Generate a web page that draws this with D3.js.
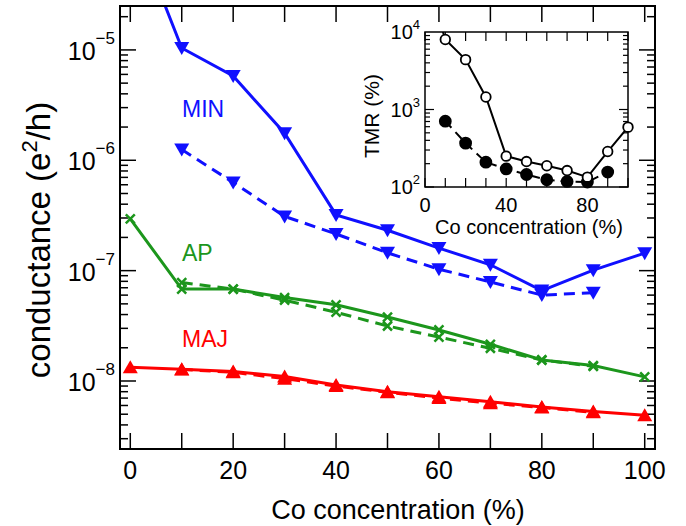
<!DOCTYPE html>
<html>
<head>
<meta charset="utf-8">
<script src="https://cdn.jsdelivr.net/npm/d3@7"></script>
<style>
  body { margin: 0; background: #fff; }
  svg { display: block; font-family: "Liberation Sans", Arial, Helvetica, sans-serif; }
</style>
</head>
<body>
<div id="chart"></div>
<script>
// Données
const conc = [0, 10, 20, 30, 40, 50, 60, 70, 80, 90, 100];
const minSolid = [1.6e-4, 1.04e-5, 5.8e-6, 1.76e-6, 3.2e-7, 2.32e-7, 1.6e-7, 1.13e-7, 6.6e-8, 1.01e-7, 1.44e-7];
const minDashed = [null, 1.25e-6, 6.3e-7, 3.1e-7, 2.15e-7, 1.45e-7, 1.03e-7, 7.9e-8, 6.0e-8, 6.3e-8, null];
const apSolid = [2.95e-7, 6.8e-8, 6.8e-8, 5.7e-8, 4.9e-8, 3.8e-8, 2.9e-8, 2.15e-8, 1.55e-8, 1.38e-8, 1.09e-8];
const apDashed = [null, 7.8e-8, 6.8e-8, 5.4e-8, 4.2e-8, 3.15e-8, 2.5e-8, 1.98e-8, 1.55e-8, 1.36e-8, null];
const majSolid = [1.33e-8, 1.28e-8, 1.22e-8, 1.1e-8, 9.2e-9, 8.0e-9, 7.2e-9, 6.5e-9, 5.8e-9, 5.3e-9, 4.9e-9];
const majDashed = [null, 1.27e-8, 1.2e-8, 1.05e-8, 9.0e-9, 7.9e-9, 7.0e-9, 6.3e-9, 5.75e-9, 5.2e-9, null];
const tmrOpen = [5.7e4, 8000, 4400, 1450, 250, 213, 188, 163, 134, 287, 592];
const tmrFilled = [null, 707, 368, 209, 171, 145, 124, 118, 116, 156, null];

const xTicks = [0, 10, 20, 30, 40, 50, 60, 70, 80, 90, 100];
const xLabels = [0, 20, 40, 60, 80, 100];
const yDecades = [-8, -7, -6, -5];
const insetXLabels = [0, 40, 80];
const insetDecades = [2, 3, 4];

const BLUE = "#1010ff";
const GREEN = "#1c961c";
const RED = "#ff0000";

// Dimensions
const width = 686;
const height = 526;
const m = { left: 120, right: 655, top: 6, bottom: 449 };
const ins = { left: 425, right: 628, top: 32, bottom: 187 };

const svg = d3
  .select("#chart")
  .append("svg")
  .attr("width", width)
  .attr("height", height);

const x = d3.scaleLinear().domain([-2, 102]).range([m.left, m.right]);
const y = d3.scaleLog().domain([2.42e-9, 2.5e-5]).range([m.bottom, m.top]);

const ix = d3.scaleLinear().domain([0, 100]).range([ins.left, ins.right]);
const iy = d3.scaleLog().domain([100, 10000]).range([ins.bottom, ins.top]);

const defs = svg.append("defs");
defs.append("clipPath").attr("id", "clip-main")
  .append("rect")
  .attr("x", m.left).attr("y", m.top)
  .attr("width", m.right - m.left).attr("height", m.bottom - m.top);
defs.append("clipPath").attr("id", "clip-inset")
  .append("rect")
  .attr("x", ins.left).attr("y", ins.top)
  .attr("width", ins.right - ins.left).attr("height", ins.bottom - ins.top);

// Graduations (vers l'intérieur, sur les quatre côtés)
const drawTicks = (g, box, xs, ticks, ys, xLen, yMajor, yMinor, decades) => {
  ticks.forEach((t) => {
    const px = xs(t);
    g.append("line").attr("x1", px).attr("x2", px).attr("y1", box.bottom).attr("y2", box.bottom - xLen);
    g.append("line").attr("x1", px).attr("x2", px).attr("y1", box.top).attr("y2", box.top + xLen);
  });
  const [lo, hi] = ys.domain();
  decades.forEach((d) => {
    for (let k = 1; k <= 9; k++) {
      const v = k * Math.pow(10, d);
      if (v < lo * 0.999 || v > hi * 1.001) continue;
      const py = ys(v);
      const len = k === 1 ? yMajor : yMinor;
      g.append("line").attr("x1", box.left).attr("x2", box.left + len).attr("y1", py).attr("y2", py);
      g.append("line").attr("x1", box.right).attr("x2", box.right - len).attr("y1", py).attr("y2", py);
    }
  });
};

const line = (xs, ys) =>
  d3.line()
    .defined((d) => d.v != null)
    .x((d) => xs(d.c))
    .y((d) => ys(d.v));

const toPts = (arr) => conc.map((c, i) => ({ c: c, v: arr[i] }));
const inDomain = (ys) => (d) => d.v != null && d.v <= ys.domain()[1];

// ---------- Graphique principal ----------
const mainTicks = svg.append("g").attr("stroke", "#000").attr("stroke-width", 1.5);
drawTicks(mainTicks, m, x, xTicks, y, 16, 16, 8, [-9, -8, -7, -6, -5]);

const triDown = "M0,7L-7.5,-6L7.5,-6Z";
const triUp = "M0,-7L7.5,6L-7.5,6Z";

const series = [
  { data: majDashed, color: RED, dash: "11,7", marker: "up" },
  { data: majSolid, color: RED, dash: null, marker: "up" },
  { data: apDashed, color: GREEN, dash: "11,7", marker: "x" },
  { data: apSolid, color: GREEN, dash: null, marker: "x" },
  { data: minDashed, color: BLUE, dash: "11,7", marker: "down" },
  { data: minSolid, color: BLUE, dash: null, marker: "down" },
];

const plot = svg.append("g").attr("clip-path", "url(#clip-main)");

// Cadre
svg.append("rect")
  .attr("x", m.left).attr("y", m.top)
  .attr("width", m.right - m.left).attr("height", m.bottom - m.top)
  .attr("fill", "none").attr("stroke", "#000").attr("stroke-width", 2);

const marks = svg.append("g");

series.forEach((s) => {
  const pts = toPts(s.data);
  plot.append("path")
    .datum(pts)
    .attr("d", line(x, y))
    .attr("fill", "none")
    .attr("stroke", s.color)
    .attr("stroke-width", 3)
    .attr("stroke-dasharray", s.dash);

  const valid = pts.filter(inDomain(y));
  if (s.marker === "x") {
    marks.selectAll(null)
      .data(valid)
      .enter()
      .append("path")
      .attr("transform", (d) => `translate(${x(d.c)},${y(d.v)})`)
      .attr("d", "M-4.5,-4.5L4.5,4.5M-4.5,4.5L4.5,-4.5")
      .attr("stroke", s.color)
      .attr("stroke-width", 2.5)
      .attr("fill", "none");
  } else {
    marks.selectAll(null)
      .data(valid)
      .enter()
      .append("path")
      .attr("transform", (d) => `translate(${x(d.c)},${y(d.v)})`)
      .attr("d", s.marker === "up" ? triUp : triDown)
      .attr("fill", s.color);
  }
});

// Étiquettes des axes
svg.append("g")
  .selectAll("text")
  .data(xLabels)
  .enter()
  .append("text")
  .attr("x", (d) => x(d))
  .attr("y", 479)
  .attr("text-anchor", "middle")
  .attr("font-size", 25)
  .text((d) => d);

yDecades.forEach((d) => {
  const t = svg.append("text")
    .attr("x", 115)
    .attr("y", y(Math.pow(10, d)) + 10)
    .attr("text-anchor", "end")
    .attr("font-size", 25);
  t.append("tspan").text("10");
  t.append("tspan").attr("dy", -16).attr("font-size", 17).text("\u2212" + Math.abs(d));
});

svg.append("text")
  .attr("x", 398)
  .attr("y", 519)
  .attr("text-anchor", "middle")
  .attr("font-size", 27)
  .text("Co concentration (%)");

const yTitle = svg.append("text")
  .attr("transform", "translate(50,240) rotate(-90)")
  .attr("text-anchor", "middle")
  .attr("font-size", 33);
yTitle.append("tspan").text("conductance (e");
yTitle.append("tspan").attr("dy", -13).attr("font-size", 22).text("2");
yTitle.append("tspan").attr("dy", 13).text("/h)");

const seriesLabels = [
  { text: "MIN", y: 117, color: BLUE },
  { text: "AP", y: 261, color: GREEN },
  { text: "MAJ", y: 347, color: RED },
];
svg.selectAll(null)
  .data(seriesLabels)
  .enter()
  .append("text")
  .attr("x", 182)
  .attr("y", (d) => d.y)
  .attr("font-size", 23)
  .attr("fill", (d) => d.color)
  .text((d) => d.text);

// ---------- Encart TMR ----------
svg.append("rect")
  .attr("x", ins.left).attr("y", ins.top)
  .attr("width", ins.right - ins.left).attr("height", ins.bottom - ins.top)
  .attr("fill", "#fff");

const insetTicks = svg.append("g").attr("stroke", "#000").attr("stroke-width", 1.2);
drawTicks(insetTicks, ins, ix, xTicks, iy, 9, 9, 5, [2, 3]);

const insetPlot = svg.append("g").attr("clip-path", "url(#clip-inset)");

svg.append("rect")
  .attr("x", ins.left).attr("y", ins.top)
  .attr("width", ins.right - ins.left).attr("height", ins.bottom - ins.top)
  .attr("fill", "none").attr("stroke", "#000").attr("stroke-width", 1.5);

const insetMarks = svg.append("g");

const tmrSeries = [
  { data: tmrFilled, dash: "9,6", fill: "#000" },
  { data: tmrOpen, dash: null, fill: "#fff" },
];
tmrSeries.forEach((s) => {
  const pts = toPts(s.data);
  insetPlot.append("path")
    .datum(pts)
    .attr("d", line(ix, iy))
    .attr("fill", "none")
    .attr("stroke", "#000")
    .attr("stroke-width", 2)
    .attr("stroke-dasharray", s.dash);
  insetMarks.selectAll(null)
    .data(pts.filter(inDomain(iy)))
    .enter()
    .append("circle")
    .attr("cx", (d) => ix(d.c))
    .attr("cy", (d) => iy(d.v))
    .attr("r", s.fill === "#000" ? 5.5 : 4.8)
    .attr("fill", s.fill)
    .attr("stroke", "#000")
    .attr("stroke-width", 1.8);
});

svg.append("g")
  .selectAll("text")
  .data(insetXLabels)
  .enter()
  .append("text")
  .attr("x", (d) => ix(d))
  .attr("y", 212)
  .attr("text-anchor", "middle")
  .attr("font-size", 20)
  .text((d) => d);

insetDecades.forEach((d) => {
  const t = svg.append("text")
    .attr("x", 420)
    .attr("y", iy(Math.pow(10, d)) + 7)
    .attr("text-anchor", "end")
    .attr("font-size", 20);
  t.append("tspan").text("10");
  t.append("tspan").attr("dy", -10).attr("font-size", 13).text(d);
});

svg.append("text")
  .attr("x", 529)
  .attr("y", 234)
  .attr("text-anchor", "middle")
  .attr("font-size", 20)
  .text("Co concentration (%)");

svg.append("text")
  .attr("transform", "translate(379,116) rotate(-90)")
  .attr("text-anchor", "middle")
  .attr("font-size", 21)
  .text("TMR (%)");
</script>
</body>
</html>
